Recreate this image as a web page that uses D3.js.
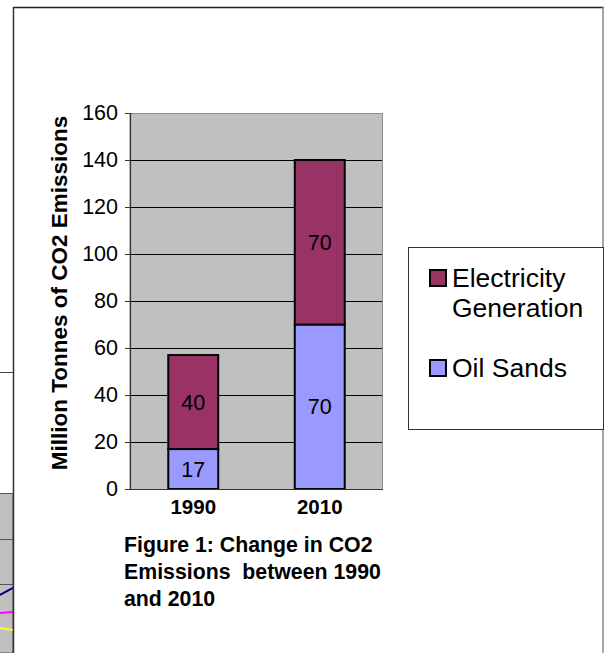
<!DOCTYPE html>
<html>
<head>
<meta charset="utf-8">
<script src="https://cdn.jsdelivr.net/npm/d3@7"></script>
<style>
  html, body { margin: 0; padding: 0; background: #fff; }
  svg { display: block; font-family: "Liberation Sans", Arial, sans-serif; }
</style>
</head>
<body>
<svg id="chart" width="604" height="653"></svg>
<script>
// Emissions by source (million tonnes CO2)
const categories = ["1990", "2010"];
const oilSands = [17, 70];
const electricity = [40, 70];
const yTicks = [0, 20, 40, 60, 80, 100, 120, 140, 160];
const seriesNames = ["Electricity Generation", "Oil Sands"];
const seriesColors = ["#993366", "#9999FF"];
const captionLines = ["Figure 1: Change in CO2", "Emissions  between 1990", "and 2010"];

// Edge of the neighbouring figure (grid values and line series at its last two x points)
const nbGrid = [200, 150];
const nbSeries = [
  { color: "#000080", values: [137.8, 145.6] },
  { color: "#FF00FF", values: [117.8, 118.9] },
  { color: "#FFFF00", values: [101.1, 98.9] }
];

const svg = d3.select("#chart");

// ---- neighbouring figure fragment on the left edge ----
const nbX = d3.scaleLinear().domain([0, 1]).range([0, 13]);
const nbY = d3.scaleLinear().domain([150, 200]).range([584, 539]);
const nb = svg.append("g");
nb.append("line").attr("x1", 0).attr("x2", 13).attr("y1", 372.5).attr("y2", 372.5)
  .attr("stroke", "#444").attr("stroke-width", 1);
nb.append("rect").attr("x", -2).attr("y", nbY(250.5)).attr("width", 15).attr("height", 653 - nbY(250.5))
  .attr("fill", "#C0C0C0").attr("stroke", "#555").attr("stroke-width", 1);
nb.selectAll("line.nbgrid").data(nbGrid).join("line").attr("class", "nbgrid")
  .attr("x1", 0).attr("x2", 13)
  .attr("y1", d => Math.round(nbY(d)) + 0.5).attr("y2", d => Math.round(nbY(d)) + 0.5)
  .attr("stroke", "#555").attr("stroke-width", 1);
nb.selectAll("line.nbseries").data(nbSeries).join("line").attr("class", "nbseries")
  .attr("x1", nbX(0)).attr("x2", nbX(1))
  .attr("y1", d => nbY(d.values[0])).attr("y2", d => nbY(d.values[1]))
  .attr("stroke", d => d.color).attr("stroke-width", 2);

// ---- chart frame ----
svg.append("line").attr("x1", 13.5).attr("x2", 604).attr("y1", 7.5).attr("y2", 7.5)
  .attr("stroke", "#222").attr("stroke-width", 1.5);
svg.append("line").attr("x1", 13.5).attr("x2", 13.5).attr("y1", 7).attr("y2", 653)
  .attr("stroke", "#333").attr("stroke-width", 1.5);
svg.append("line").attr("x1", 603).attr("x2", 603).attr("y1", 7).attr("y2", 653)
  .attr("stroke", "#8a8a8a").attr("stroke-width", 1.5);

// ---- plot area ----
const plot = { left: 130, right: 383, top: 113, bottom: 489 };
const y = d3.scaleLinear().domain([0, 160]).range([plot.bottom, plot.top]);
const x = d3.scaleBand().domain(categories).range([plot.left, plot.right])
  .paddingInner(0.605).paddingOuter(0.3025);

svg.append("rect")
  .attr("x", plot.left).attr("y", plot.top + 0.5)
  .attr("width", plot.right - plot.left - 0.5).attr("height", plot.bottom - plot.top)
  .attr("fill", "#C0C0C0").attr("stroke", "#8c8c8c").attr("stroke-width", 1);

// gridlines
svg.append("g").selectAll("line")
  .data(yTicks.filter(t => t > 0 && t < 160)).join("line")
  .attr("x1", plot.left).attr("x2", plot.right - 1)
  .attr("y1", d => Math.round(y(d)) + 0.5).attr("y2", d => Math.round(y(d)) + 0.5)
  .attr("stroke", "#000").attr("stroke-width", 1);

// y axis
const yAxis = svg.append("g").attr("transform", `translate(${plot.left},0)`)
  .call(d3.axisLeft(y).tickValues(yTicks).tickSize(5).tickPadding(7).tickFormat(d3.format("d")));
yAxis.select(".domain").attr("stroke", "#333").attr("stroke-width", 1.2);
yAxis.selectAll(".tick line").attr("stroke", "#333");
yAxis.selectAll(".tick text").attr("font-size", 21.5).attr("fill", "#000")
  .attr("font-family", "Liberation Sans, Arial, sans-serif");

// stacked bars (oil sands at the bottom, electricity on top)
const stackData = categories.map((c, i) => ({ cat: c, oil: oilSands[i], elec: electricity[i] }));
const stack = d3.stack().keys(["oil", "elec"])(stackData);
const layers = svg.append("g").selectAll("g").data(stack).join("g")
  .attr("fill", d => d.key === "elec" ? seriesColors[0] : seriesColors[1]);
layers.selectAll("rect").data(d => d).join("rect")
  .attr("x", d => x(d.data.cat))
  .attr("y", d => y(d[1]))
  .attr("width", x.bandwidth())
  .attr("height", d => y(d[0]) - y(d[1]))
  .attr("stroke", "#000").attr("stroke-width", 2);

// value labels
layers.selectAll("text").data(d => d.map(s => ({ s, v: s[1] - s[0] }))).join("text")
  .attr("x", d => x(d.s.data.cat) + x.bandwidth() / 2)
  .attr("y", d => y((d.s[0] + d.s[1]) / 2))
  .attr("dy", "0.36em")
  .attr("text-anchor", "middle")
  .attr("font-size", 21.5).attr("fill", "#000")
  .text(d => d.v);

// x axis line
svg.append("line").attr("x1", plot.left).attr("x2", plot.right)
  .attr("y1", plot.bottom + 0.5).attr("y2", plot.bottom + 0.5)
  .attr("stroke", "#333").attr("stroke-width", 1.2);

// category labels
svg.append("g").selectAll("text").data(categories).join("text")
  .attr("x", d => x(d) + x.bandwidth() / 2)
  .attr("y", 514)
  .attr("text-anchor", "middle")
  .attr("font-size", 20.5).attr("font-weight", "bold")
  .text(d => d);

// y axis title
svg.append("text")
  .attr("transform", `translate(67,${(plot.top + plot.bottom) / 2 - 8}) rotate(-90)`)
  .attr("text-anchor", "middle")
  .attr("font-size", 22.5).attr("font-weight", "bold")
  .text("Million Tonnes of CO2 Emissions");

// caption
svg.append("text").attr("font-size", 21.3).attr("font-weight", "bold")
  .selectAll("tspan").data(captionLines).join("tspan")
  .attr("x", 124).attr("y", (d, i) => 552 + i * 27.2)
  .attr("xml:space", "preserve").style("white-space", "pre")
  .text(d => d);

// legend
const legend = svg.append("g");
legend.append("rect").attr("x", 408.5).attr("y", 247.5).attr("width", 195).attr("height", 182)
  .attr("fill", "#fff").attr("stroke", "#333").attr("stroke-width", 1);
const legendItems = [
  { name: seriesNames[0], color: seriesColors[0], lines: ["Electricity", "Generation"], y: 287 },
  { name: seriesNames[1], color: seriesColors[1], lines: ["Oil Sands"], y: 377 }
];
const li = legend.selectAll("g.item").data(legendItems).join("g").attr("class", "item");
li.append("rect").attr("x", 430).attr("y", d => d.y - 17).attr("width", 16).attr("height", 16)
  .attr("fill", d => d.color).attr("stroke", "#000").attr("stroke-width", 2);
li.append("text").attr("font-size", 26.5)
  .selectAll("tspan").data(d => d.lines.map((l, k) => ({ l, k, y0: d.y }))).join("tspan")
  .attr("x", 452).attr("y", d => d.y0 + d.k * 30)
  .text(d => d.l);
</script>
</body>
</html>
